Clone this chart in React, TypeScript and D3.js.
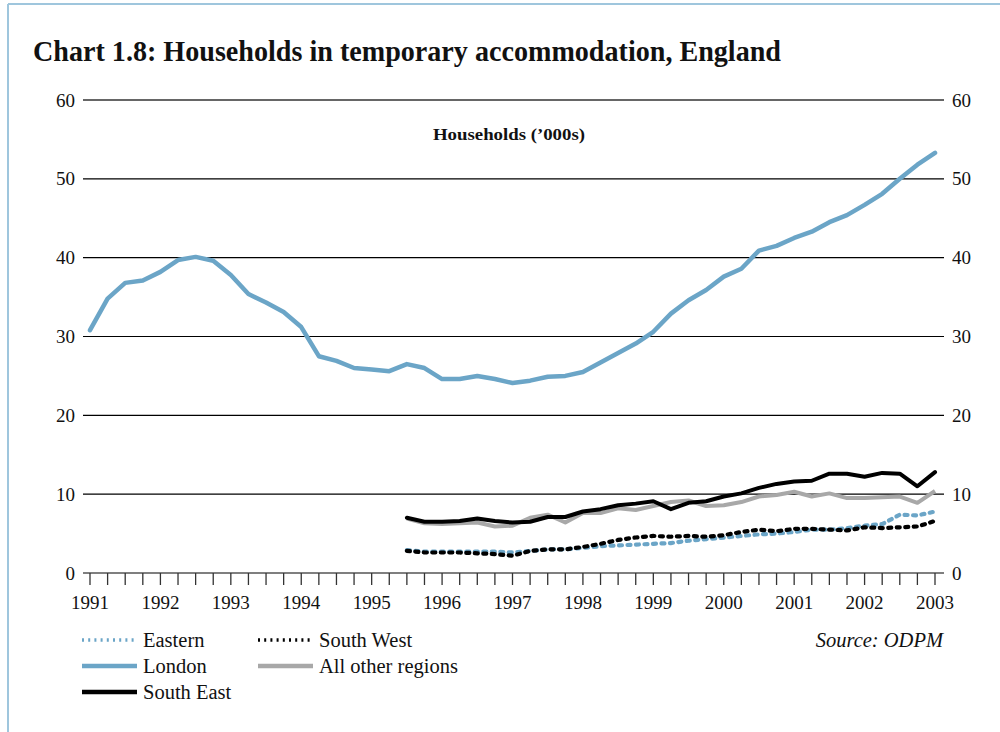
import React from "react";
import * as d3 from "d3";

const startYear = 1991;
const london = [30.8, 34.8, 36.8, 37.1, 38.2, 39.7, 40.1, 39.6, 37.8, 35.4, 34.3, 33.1, 31.2, 27.5, 26.9, 26.0, 25.8, 25.6, 26.5, 26.0, 24.6, 24.6, 25.0, 24.6, 24.1, 24.4, 24.9, 25.0, 25.5, 26.7, 27.9, 29.1, 30.6, 32.9, 34.6, 35.9, 37.6, 38.6, 40.9, 41.5, 42.5, 43.3, 44.5, 45.4, 46.7, 48.1, 50.0, 51.8, 53.3];
const regionStart = 1995.5;
const southEast = [7.0, 6.5, 6.5, 6.6, 6.9, 6.6, 6.4, 6.5, 7.1, 7.1, 7.8, 8.1, 8.6, 8.8, 9.1, 8.1, 8.9, 9.1, 9.7, 10.1, 10.8, 11.3, 11.6, 11.7, 12.6, 12.6, 12.2, 12.7, 12.6, 11.0, 12.8];
const otherRegions = [6.9, 6.3, 6.2, 6.3, 6.4, 5.9, 6.0, 7.0, 7.4, 6.4, 7.6, 7.6, 8.2, 8.0, 8.5, 9.0, 9.2, 8.5, 8.6, 9.0, 9.7, 9.9, 10.3, 9.7, 10.1, 9.5, 9.5, 9.6, 9.7, 8.9, 10.4];
const eastern = [2.9, 2.7, 2.7, 2.7, 2.7, 2.7, 2.6, 2.8, 3.0, 3.0, 3.2, 3.4, 3.5, 3.6, 3.7, 3.8, 4.1, 4.3, 4.5, 4.7, 4.9, 5.0, 5.2, 5.5, 5.5, 5.7, 6.0, 6.2, 7.4, 7.3, 7.8];
const southWest = [2.8, 2.6, 2.6, 2.6, 2.5, 2.4, 2.2, 2.8, 3.0, 3.0, 3.3, 3.7, 4.2, 4.5, 4.7, 4.6, 4.7, 4.6, 4.8, 5.2, 5.5, 5.3, 5.6, 5.6, 5.5, 5.4, 5.8, 5.7, 5.8, 5.9, 6.6];
const yearTicks = d3.range(1991, 2004);
const yTicks = [0, 10, 20, 30, 40, 50, 60];

const BLUE = "#6ba5c7";
const GREY = "#a8a8a8";
const FONT = "'Liberation Serif', 'DejaVu Serif', serif";

export default function App() {
  const x = d3.scaleLinear().domain([1991, 2003]).range([90, 935]);
  const y = d3.scaleLinear().domain([0, 60]).range([573, 100]);
  const line = d3.line<[number, number]>().x(d => x(d[0])).y(d => y(d[1]));
  const toPts = (vals: number[], start: number): [number, number][] => vals.map((v, i) => [start + i * 0.25, v]);
  const quarterTicks = d3.range(0, 49).map(i => 1991 + i * 0.25);

  const legend = [
    { label: "Eastern", col: 0, row: 0, type: "dotBlue" },
    { label: "South West", col: 1, row: 0, type: "dotBlack" },
    { label: "London", col: 0, row: 1, type: "blue" },
    { label: "All other regions", col: 1, row: 1, type: "grey" },
    { label: "South East", col: 0, row: 2, type: "black" },
  ];

  return (
    <svg width={1000} height={732} style={{ position: "absolute", left: 0, top: 0, background: "#fff" }}>
      <rect x={0} y={0} width={1000} height={732} fill="#fff" />
      <line x1={8} y1={4} x2={1000} y2={4} stroke="#9fc6dd" strokeWidth={2} />
      <line x1={8} y1={4} x2={8} y2={732} stroke="#9fc6dd" strokeWidth={2} />
      <text x={33} y={61} fontFamily={FONT} fontWeight="bold" fontSize={30} fill="#111" textLength={748} lengthAdjust="spacingAndGlyphs">
        Chart 1.8: Households in temporary accommodation, England
      </text>
      {yTicks.filter(t => t > 0).map(t => (
        <line key={"g" + t} x1={83} x2={944} y1={y(t)} y2={y(t)} stroke={t === 60 ? "#333" : "#000"} strokeWidth={t === 60 ? 1.6 : 1.2} />
      ))}
      {yTicks.map(t => (
        <g key={"yl" + t} fontFamily={FONT} fontSize={19} fill="#111">
          <text x={75} y={y(t) + 6.5} textAnchor="end">{t}</text>
          <text x={952} y={y(t) + 6.5}>{t}</text>
        </g>
      ))}
      <text x={509} y={140} textAnchor="middle" fontFamily={FONT} fontWeight="bold" fontSize={16.5} fill="#111" textLength={152} lengthAdjust="spacingAndGlyphs">
        Households (’000s)
      </text>
      <line x1={83} x2={944} y1={y(0)} y2={y(0)} stroke="#555" strokeWidth={1.5} />
      {quarterTicks.map((q, i) => (
        <line key={"t" + i} x1={x(q)} x2={x(q)} y1={y(0)} y2={y(0) + 12} stroke="#333" strokeWidth={1.3} />
      ))}
      {yearTicks.map(yr => (
        <text key={"x" + yr} x={x(yr)} y={609} textAnchor="middle" fontFamily={FONT} fontSize={19} fill="#111">{yr}</text>
      ))}
      <path d={line(toPts(otherRegions, regionStart)) || ""} fill="none" stroke={GREY} strokeWidth={4} strokeLinejoin="round" />
      <path d={line(toPts(southEast, regionStart)) || ""} fill="none" stroke="#000" strokeWidth={4} strokeLinejoin="round" strokeLinecap="round" />
      <path d={line(toPts(eastern, regionStart)) || ""} fill="none" stroke={BLUE} strokeWidth={4.2} strokeDasharray="3 5.5" strokeLinecap="round" />
      <path d={line(toPts(southWest, regionStart)) || ""} fill="none" stroke="#000" strokeWidth={4.2} strokeDasharray="3 5.5" strokeLinecap="round" />
      <path d={line(toPts(london, startYear)) || ""} fill="none" stroke={BLUE} strokeWidth={4.5} strokeLinejoin="round" strokeLinecap="round" />
      {legend.map(l => {
        const lx = 82 + l.col * 176;
        const ly = 640 + l.row * 26;
        const stroke = l.type === "dotBlue" || l.type === "blue" ? BLUE : l.type === "grey" ? GREY : "#000";
        const dotted = l.type.startsWith("dot");
        return (
          <g key={l.label}>
            <line x1={lx} x2={lx + 55} y1={ly} y2={ly} stroke={stroke} strokeWidth={dotted ? 3.5 : 4.5} strokeDasharray={dotted ? "2 4.2" : undefined} />
            <text x={lx + 61} y={ly + 7} fontFamily={FONT} fontSize={20.5} fill="#111">{l.label}</text>
          </g>
        );
      })}
      <text x={943} y={647} textAnchor="end" fontFamily={FONT} fontStyle="italic" fontSize={20.5} fill="#111">Source: ODPM</text>
    </svg>
  );
}
